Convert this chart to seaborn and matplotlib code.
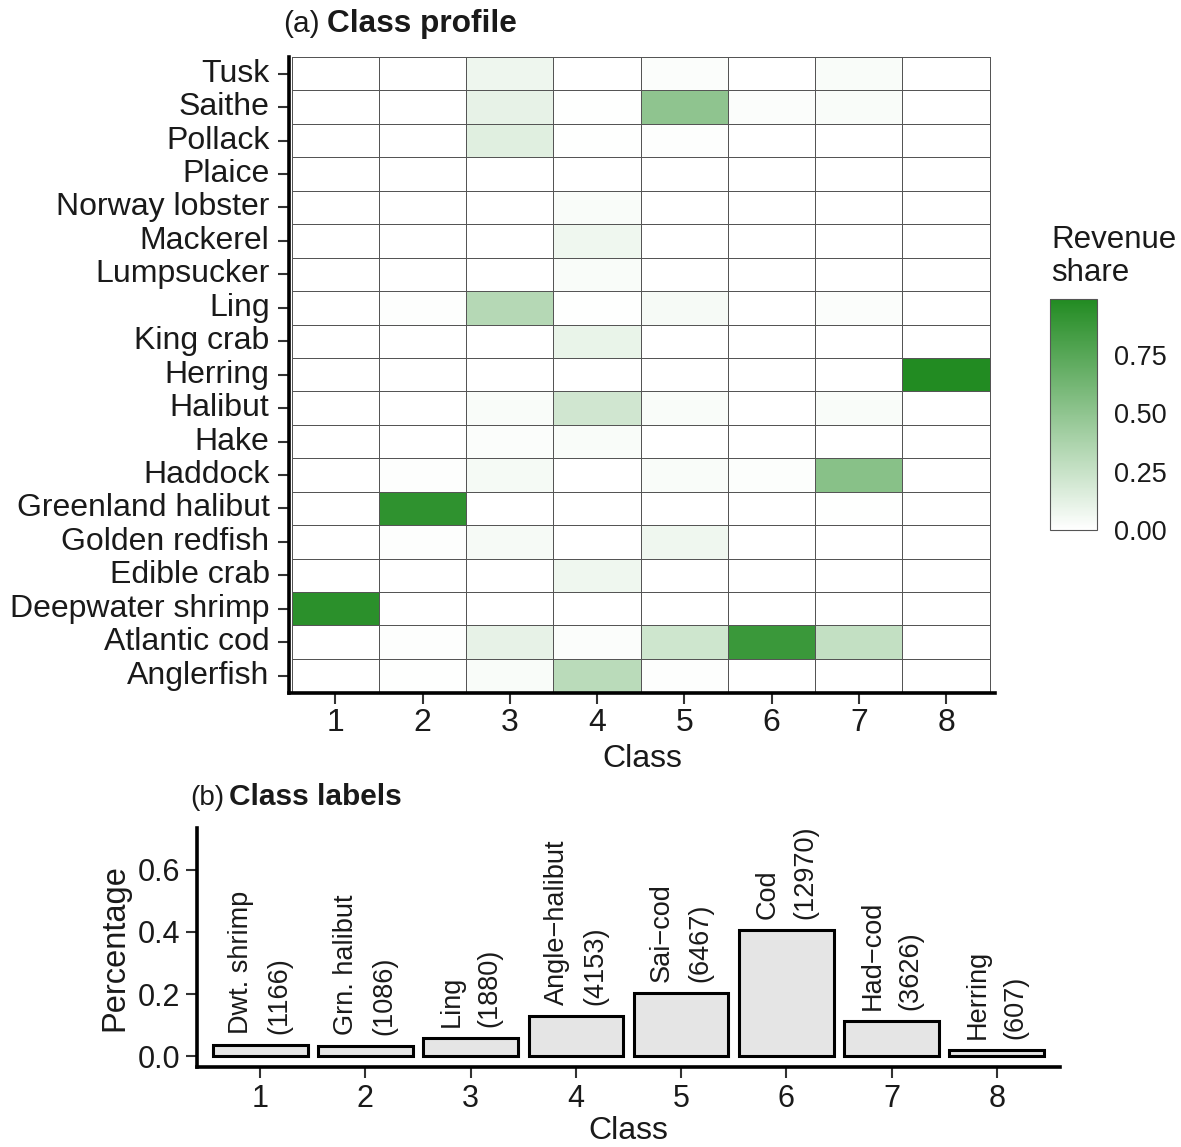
import numpy as np
import pandas as pd
import matplotlib
matplotlib.use("Agg")
import matplotlib.pyplot as plt
from matplotlib.colors import LinearSegmentedColormap
import seaborn as sns

sns.set_style("white")
plt.rcParams['font.family'] = ['Liberation Sans', 'DejaVu Sans']

# ---------------- data ----------------
species = ["Tusk", "Saithe", "Pollack", "Plaice", "Norway lobster", "Mackerel",
           "Lumpsucker", "Ling", "King crab", "Herring", "Halibut", "Hake",
           "Haddock", "Greenland halibut", "Golden redfish", "Edible crab",
           "Deepwater shrimp", "Atlantic cod", "Anglerfish"]
classes = ["1", "2", "3", "4", "5", "6", "7", "8"]

# revenue share per species (rows) and class (columns)
share_tusk        = [0.00, 0.00, 0.08, 0.00, 0.02, 0.00, 0.03, 0.00]
share_saithe      = [0.00, 0.00, 0.11, 0.005, 0.50, 0.02, 0.03, 0.00]
share_pollack     = [0.00, 0.00, 0.14, 0.005, 0.01, 0.00, 0.00, 0.00]
share_plaice      = [0.00, 0.00, 0.00, 0.00, 0.00, 0.00, 0.00, 0.00]
share_norlobster  = [0.00, 0.00, 0.00, 0.03, 0.00, 0.00, 0.00, 0.00]
share_mackerel    = [0.00, 0.00, 0.00, 0.07, 0.00, 0.00, 0.00, 0.00]
share_lumpsucker  = [0.00, 0.00, 0.00, 0.03, 0.00, 0.00, 0.00, 0.00]
share_ling        = [0.00, 0.01, 0.33, 0.005, 0.04, 0.00, 0.02, 0.00]
share_kingcrab    = [0.00, 0.00, 0.00, 0.10, 0.00, 0.00, 0.00, 0.00]
share_herring     = [0.00, 0.00, 0.00, 0.00, 0.00, 0.00, 0.00, 0.99]
share_halibut     = [0.00, 0.00, 0.03, 0.21, 0.03, 0.00, 0.03, 0.00]
share_hake        = [0.00, 0.00, 0.02, 0.03, 0.00, 0.00, 0.00, 0.00]
share_haddock     = [0.00, 0.01, 0.05, 0.00, 0.03, 0.015, 0.53, 0.00]
share_grhalibut   = [0.00, 0.93, 0.00, 0.00, 0.00, 0.00, 0.005, 0.00]
share_redfish     = [0.00, 0.01, 0.04, 0.00, 0.07, 0.00, 0.00, 0.00]
share_ediblecrab  = [0.00, 0.00, 0.00, 0.07, 0.00, 0.00, 0.00, 0.00]
share_dwshrimp    = [0.95, 0.00, 0.00, 0.00, 0.00, 0.00, 0.00, 0.00]
share_cod         = [0.00, 0.01, 0.11, 0.02, 0.22, 0.88, 0.27, 0.00]
share_anglerfish  = [0.00, 0.005, 0.03, 0.31, 0.01, 0.00, 0.00, 0.00]

# class size (counts) and share of observations
class_names = ["Dwt. shrimp", "Grn. halibut", "Ling", "Angle\u2212halibut",
               "Sai\u2212cod", "Cod", "Had\u2212cod", "Herring"]
class_counts = [1166, 1086, 1880, 4153, 6467, 12970, 3626, 607]
class_pct = [0.0365, 0.0340, 0.0588, 0.1300, 0.2024, 0.4059, 0.1135, 0.0190]

rows = [share_tusk, share_saithe, share_pollack, share_plaice, share_norlobster,
        share_mackerel, share_lumpsucker, share_ling, share_kingcrab, share_herring,
        share_halibut, share_hake, share_haddock, share_grhalibut, share_redfish,
        share_ediblecrab, share_dwshrimp, share_cod, share_anglerfish]
profile = pd.DataFrame(rows, index=species, columns=classes)
bars = pd.DataFrame({"Class": classes, "Percentage": class_pct})

# ---------------- figure ----------------
W, H = 1181, 1147
fig = plt.figure(figsize=(W / 100, H / 100), dpi=100)

def box(l, t, r, b):
    return [l / W, 1 - b / H, (r - l) / W, (b - t) / H]

txt = "#1a1a1a"
cmap = LinearSegmentedColormap.from_list("wg", ["#ffffff", "#228B22"])

ax1 = fig.add_axes(box(289, 57, 995, 693))
cax = fig.add_axes(box(1050, 299, 1097, 530))
sns.heatmap(profile, ax=ax1, cbar_ax=cax, cmap=cmap, vmin=0,
            linewidths=0.7, linecolor="#555555")
for s in ["left", "bottom"]:
    ax1.spines[s].set_visible(True)
    ax1.spines[s].set_color("black")
    ax1.spines[s].set_linewidth(2.6)
ax1.set_xlim(-0.03, 8.06)
ax1.set_ylim(19.02, -0.0)
ax1.tick_params(axis="both", which="both", direction="out", length=8, width=1.5,
                color="#333333", labelsize=23, labelcolor=txt, pad=6,
                left=True, bottom=True)
ax1.tick_params(axis="x", pad=3)
ax1.set_yticklabels(species, rotation=0)
ax1.set_xticklabels(classes, rotation=0)
ax1.set_xlabel("Class", fontsize=23, color=txt, labelpad=4)
ax1.set_ylabel("")

cbar = ax1.collections[0].colorbar
cbar.set_ticks([0, 0.25, 0.5, 0.75])
cbar.set_ticklabels(["0.00", "0.25", "0.50", "0.75"])
cax.tick_params(axis="y", which="both", direction="in", length=9, width=1.2,
                color="white", left=True, right=True, labelsize=19.5,
                labelcolor=txt, pad=12)
cbar.outline.set_edgecolor("#555555")
cbar.outline.set_linewidth(0.8)
fig.text(1051 / W, 1 - 281 / H, "Revenue\nshare", fontsize=22.5, color=txt,
         ha="left", va="baseline", linespacing=1.12)

fig.text(283 / W, 1 - 32 / H, "(a)", fontsize=21.5, color=txt, ha="left", va="baseline")
fig.text(327 / W, 1 - 32 / H, "Class profile", fontsize=22.8, fontweight="bold",
         color=txt, ha="left", va="baseline")

# ---------------- bar panel ----------------
ax2 = fig.add_axes(box(197, 828, 1060, 1067))
sns.barplot(data=bars, x="Class", y="Percentage", ax=ax2, width=0.9,
            color="#E5E5E5", edgecolor="black", linewidth=2.2, saturation=1)
ax2.set_xlim(-0.6, 7.6)
ax2.set_ylim(-0.035, 0.735)
ax2.set_yticks([0.0, 0.2, 0.4, 0.6])
ax2.set_yticklabels(["0.0", "0.2", "0.4", "0.6"])
for s in ["top", "right"]:
    ax2.spines[s].set_visible(False)
for s in ["left", "bottom"]:
    ax2.spines[s].set_color("black")
    ax2.spines[s].set_linewidth(2.6)
ax2.tick_params(axis="both", direction="out", length=8, width=1.5, color="#333333",
                labelsize=22, labelcolor=txt, left=True, bottom=True, pad=4)
ax2.set_xlabel("Class", fontsize=23, color=txt, labelpad=2)
ax2.set_ylabel("Percentage", fontsize=23.5, color=txt, labelpad=5)
for i, (nm, cnt, p) in enumerate(zip(class_names, class_counts, class_pct)):
    ax2.text(i, p + 0.035, f"{nm}\n({cnt})", rotation=90, ha="center", va="bottom",
             multialignment="left", fontsize=19.5, color=txt, linespacing=1.6)

fig.text(190 / W, 1 - 805 / H, "(b)", fontsize=20, color=txt, ha="left", va="baseline")
fig.text(229 / W, 1 - 805 / H, "Class labels", fontsize=21.5, fontweight="bold",
         color=txt, ha="left", va="baseline")

fig.savefig("out.png", dpi=100)
